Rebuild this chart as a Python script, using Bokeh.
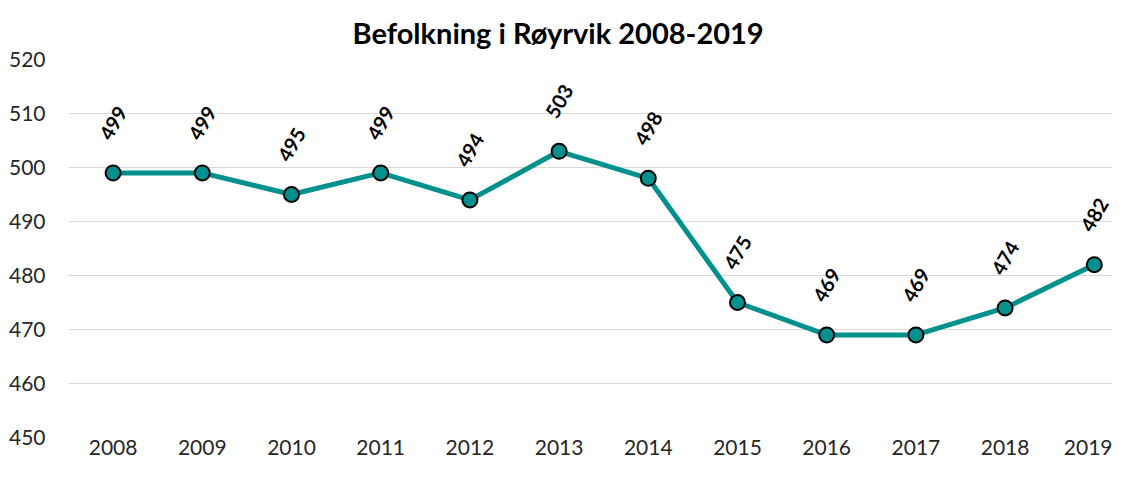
import math
from bokeh.plotting import figure
from bokeh.models import Range1d, FixedTicker, ColumnDataSource, Title
from bokeh.core.properties import value
from bokeh.embed import file_html
from bokeh.resources import INLINE

years = [2008, 2009, 2010, 2011, 2012, 2013, 2014, 2015, 2016, 2017, 2018, 2019]
population = [499, 499, 495, 499, 494, 503, 498, 475, 469, 469, 474, 482]
labels = [str(v) for v in population]
y_ticks = [450, 460, 470, 480, 490, 500, 510, 520]
title_text = "Befolkning i Røyrvik 2008-2019"

TEAL = "#00918e"
FONT = "Lato"

src = ColumnDataSource(dict(x=years, y=population, lab=labels))

p = figure(width=1112, height=461, output_backend="svg", toolbar_location=None,
           x_range=Range1d(2007.5, 2019.204), y_range=Range1d(450, 520),
           min_border_left=68, min_border_right=0, min_border_top=59,
           min_border_bottom=24)

p.title = Title(text=title_text, align="left", offset=284,
                text_font=FONT, text_font_size="29px", text_font_style="bold",
                text_color="#000000", standoff=20)

p.outline_line_color = None
p.background_fill_color = "white"
p.border_fill_color = "white"

p.xgrid.grid_line_color = None
p.ygrid.grid_line_color = "#d9d9d9"
p.ygrid.grid_line_width = 1

p.xaxis.ticker = FixedTicker(ticks=years)
p.yaxis.ticker = FixedTicker(ticks=y_ticks)
for ax in (p.xaxis, p.yaxis):
    ax.axis_line_color = None
    ax.major_tick_line_color = None
    ax.minor_tick_line_color = None
    ax.major_tick_out = 0
    ax.major_tick_in = 0
    ax.minor_tick_out = 0
    ax.minor_tick_in = 0
    ax.major_label_text_font = FONT
    ax.major_label_text_font_size = "21px"
    ax.major_label_text_color = "#262626"
p.yaxis.major_label_standoff = 23
p.xaxis.major_label_standoff = 2

p.line("x", "y", source=src, line_color=TEAL, line_width=5)
p.scatter("x", "y", source=src, size=15, fill_color=TEAL, line_color="#000000", line_width=2)
p.text("x", "y", text="lab", source=src, angle=math.radians(60), y_offset=-50,
       text_align="center", text_baseline="middle", text_font=value(FONT),
       text_font_size="20px", text_font_style="bold", text_color="#000000")

open("out.html", "w").write(file_html(p, INLINE))
